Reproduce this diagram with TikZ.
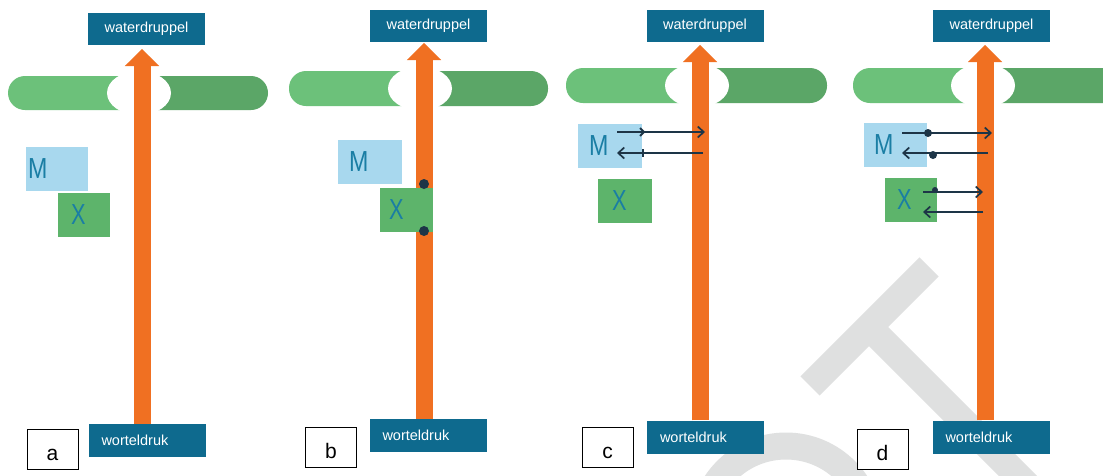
\documentclass[tikz,border=0pt]{standalone}
\usepackage{fontspec}
\setmainfont{Liberation Sans}
\usetikzlibrary{arrows.meta}
\definecolor{dblue}{HTML}{0E6A8E}
\definecolor{lblue}{HTML}{A8D8EE}
\definecolor{xgreen}{HTML}{5DB46B}
\definecolor{barL}{HTML}{6CC17A}
\definecolor{barR}{HTML}{5BA667}
\definecolor{orng}{HTML}{F07022}
\definecolor{letter}{HTML}{1A7EA4}
\definecolor{navy}{HTML}{1D3547}
\definecolor{wm}{HTML}{DFE0E0}
\begin{document}
\begin{tikzpicture}[x=1pt,y=-1pt,
  topbox/.style={fill=dblue, text=white, minimum width=117pt, minimum height=32pt, inner sep=0pt, font=\fontsize{14.5}{14.5}\selectfont},
  rootbox/.style={fill=dblue, text=white, minimum height=33pt, inner ysep=0pt, inner xsep=13pt, text width=91pt, align=left, font=\fontsize{14.5}{14.5}\selectfont},
  mbox/.style={fill=lblue, text=letter, minimum height=44pt, inner ysep=0pt, align=left, font=\fontsize{29}{29}\selectfont},
  xbox/.style={fill=xgreen, text=letter, minimum height=44pt, inner ysep=0pt, align=left, font=\fontsize{29}{29}\selectfont},
  lbl/.style={draw=black, fill=white, line width=0.8pt, minimum width=51pt, minimum height=40pt, inner sep=0pt, text height=22pt, text depth=0pt, font=\fontsize{21}{21}\selectfont},
  flow/.style={draw=orng, line width=17pt, -{Triangle[length=17pt,width=34pt,line width=0.1pt]}},
  conn/.style={draw=navy, line width=1.7pt, -{Straight Barb[length=6pt,width=11pt]}},
  dotm/.style={circle, fill=navy, inner sep=0pt, minimum size=10pt},
  smalldot/.style={circle, fill=navy, inner sep=0pt, minimum size=8pt},
  tickm/.style={draw=navy, line width=2pt},
  wmark/.style={draw=wm, line width=27pt},
  hole/.style={fill=white},
]
\useasboundingbox (0,0) rectangle (1103,475);
\clip (0,0) rectangle (1103,475);
\fill[white] (0,0) rectangle (1103,475);

% watermark
\draw[wmark] (810,386) -- (929,267);
\draw[wmark] (869,327) -- (1050,508);
\draw[wmark] (786,530) circle[radius=84];

% ---------- panel a ----------
\fill[barL, rounded corners=17pt] (8,76) rectangle (140,110);
\fill[barR, rounded corners=17pt] (140,76) rectangle (268,110);
\fill[hole] (139,93) ellipse[x radius=32, y radius=22];
\node[topbox] (wa) at (146.5,29) {waterdruppel};
\node[rootbox] (ra) at (147,440.5) {worteldruk};
\coordinate (ta) at (142,49);
\draw[flow] (ra.north -| ta) -- (ta);
\node[mbox, inner xsep=2pt, text width=58pt] (ma) at (57,168.5) {\scalebox{0.8}[1]{M}};
\node[xbox, inner xsep=13pt, text width=26pt] (xa) at (84,215) {\scalebox{0.75}[1]{X}};
\node[lbl] (la) at (52.5,449) {a};

% ---------- panel b ----------
\fill[barL, rounded corners=17pt] (289,71) rectangle (420,106);
\fill[barR, rounded corners=17pt] (420,71) rectangle (548,106);
\fill[hole] (420,88.5) ellipse[x radius=32, y radius=22];
\node[topbox] (wb) at (428.5,26) {waterdruppel};
\node[rootbox] (rb) at (428,435.5) {worteldruk};
\coordinate (tb) at (424,43);
\draw[flow] (rb.north -| tb) -- (tb);
\node[mbox, inner xsep=11pt, text width=42pt] (mb) at (370,161.5) {\scalebox{0.8}[1]{M}};
\node[xbox, inner xsep=9pt, text width=35pt] (xb) at (406.5,209.5) {\scalebox{0.75}[1]{X}};
\node[dotm] (db1) at (424,184) {};
\node[dotm] (db2) at (424,231) {};
\node[lbl] (lb) at (331,447.5) {b};

% ---------- panel c ----------
\fill[barL, rounded corners=17pt] (566,68) rectangle (697,103);
\fill[barR, rounded corners=17pt] (697,68) rectangle (827,103);
\fill[hole] (697,85.5) ellipse[x radius=32, y radius=22];
\node[topbox] (wc) at (705,25.5) {waterdruppel};
\node[rootbox] (rc) at (705.5,437) {worteldruk};
\coordinate (tc) at (700,45);
\draw[flow] (rc.north -| tc) -- (tc);
\node[mbox, inner xsep=11pt, text width=42pt] (mc) at (610,145.5) {\scalebox{0.8}[1]{M}};
\node[xbox, inner xsep=14pt, text width=26pt] (xc) at (625,200.5) {\scalebox{0.75}[1]{X}};
\coordinate (c1s) at (617,132);
\coordinate (c1e) at (705,132);
\coordinate (c2s) at (703,153);
\coordinate (c2e) at (617,153);
\draw[conn] (c1s) -- (c1e);
\draw[conn] (c2s) -- (c2e);
\draw[tickm] (640,128) -- (644,132) -- (640,136);
\draw[tickm] (643,149) -- (643,157);
\node[lbl] (lc) at (607.5,447) {c};

% ---------- panel d ----------
\fill[barL, rounded corners=17pt] (853,68) rectangle (983,103);
\fill[barR, rounded corners=17pt] (983,68) rectangle (1120,103);
\fill[hole] (983,85.5) ellipse[x radius=32, y radius=22];
\node[topbox] (wd) at (991.5,25.5) {waterdruppel};
\node[rootbox] (rd) at (991,437) {worteldruk};
\coordinate (td) at (985,45);
\draw[flow] (rd.north -| td) -- (td);
\node[mbox, inner xsep=10pt, text width=43pt] (md) at (895.5,145) {\scalebox{0.8}[1]{M}};
\node[xbox, inner xsep=12pt, text width=28pt] (xd) at (911,200) {\scalebox{0.75}[1]{X}};
\coordinate (d1s) at (902,133);
\coordinate (d1e) at (992,133);
\coordinate (d2s) at (988,153);
\coordinate (d2e) at (902,153);
\coordinate (d3s) at (923,192);
\coordinate (d3e) at (983,192);
\coordinate (d4s) at (983,212);
\coordinate (d4e) at (923,212);
\draw[conn] (d1s) -- (d1e);
\draw[conn] (d2s) -- (d2e);
\draw[conn] (d3s) -- (d3e);
\draw[conn] (d4s) -- (d4e);
\node[smalldot] (dd1) at (928,133) {};
\node[smalldot] (dd2) at (933,155) {};
\node[smalldot, minimum size=6pt] (dd3) at (935,190) {};
\node[lbl] (ld) at (882.5,449) {d};
\end{tikzpicture}
\end{document}
